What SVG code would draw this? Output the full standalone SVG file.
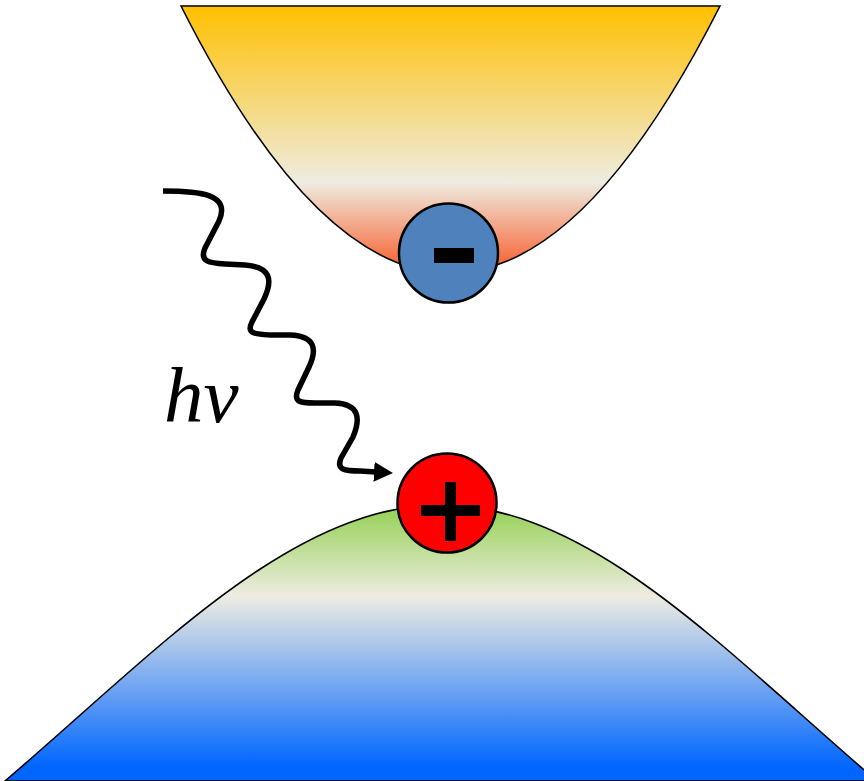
<svg xmlns="http://www.w3.org/2000/svg" width="864" height="781" viewBox="0 0 864 781">
  <style>
    .band { stroke: #000; stroke-width: 1.6; }
    .particle { stroke: #000; stroke-width: 2.5; }
    .sign { fill: #000; }
    .wave { fill: none; stroke: #000; stroke-width: 5.5; stroke-linecap: butt; stroke-linejoin: round; }
    .label { font-family: "Liberation Serif", "Times New Roman", serif; font-style: italic; font-size: 79px; fill: #000; }
  </style>
  <defs>
    <linearGradient id="gradCB" gradientUnits="userSpaceOnUse" x1="0" y1="6" x2="0" y2="273">
      <stop offset="0" stop-color="#FFC000"/>
      <stop offset="0.66" stop-color="#EEECE1"/>
      <stop offset="1" stop-color="#F85A28"/>
    </linearGradient>
    <linearGradient id="gradVB" gradientUnits="userSpaceOnUse" x1="0" y1="505" x2="0" y2="781">
      <stop offset="0" stop-color="#92D050"/>
      <stop offset="0.33" stop-color="#EEECE1"/>
      <stop offset="0.95" stop-color="#0066FF"/>
      <stop offset="1" stop-color="#0066FF"/>
    </linearGradient>
    <marker id="arrow" markerUnits="userSpaceOnUse" markerWidth="20" markerHeight="20" refX="2" refY="10" orient="auto">
      <path d="M0,0 L19,10 L0,20 Z" fill="#000"/>
    </marker>
  </defs>

  <g id="conduction-band">
    <path class="band" fill="url(#gradCB)" d="M181,6 Q450,540 720,6 Z"/>
  </g>

  <g id="valence-band">
    <path class="band" fill="url(#gradVB)" d="M5,781 C155,653 291,505 441,505 C591,505 727,653 877,781 Z"/>
  </g>

  <g id="connectors">
    <path class="wave" marker-end="url(#arrow)" d="M163,191 C200,191 231,194 219,221 L205,248 C199,262 210,263 225,264 L245,265 C271,267 273,280 264,299 L252,322 C246,334 255,334 270,335 L290,335 C316,336 317,350 309,367 L298,390 C293,402 300,403 315,403 L335,403 C359,404 361,418 353,437 L341,458 C336,470 345,471 360,471 L376,472"/>
  </g>

  <g id="label-hv">
    <text class="label" x="164" y="422">hv</text>
  </g>

  <g id="electron">
    <circle class="particle" cx="448.5" cy="253" r="49.5" fill="#4F81BD"/>
    <rect class="sign" x="434" y="248" width="40" height="15"/>
  </g>

  <g id="hole">
    <circle class="particle" cx="447" cy="503" r="49.5" fill="#FF0000"/>
    <rect class="sign" x="445" y="482" width="11" height="59"/>
    <rect class="sign" x="421" y="505" width="59" height="11"/>
  </g>
</svg>
